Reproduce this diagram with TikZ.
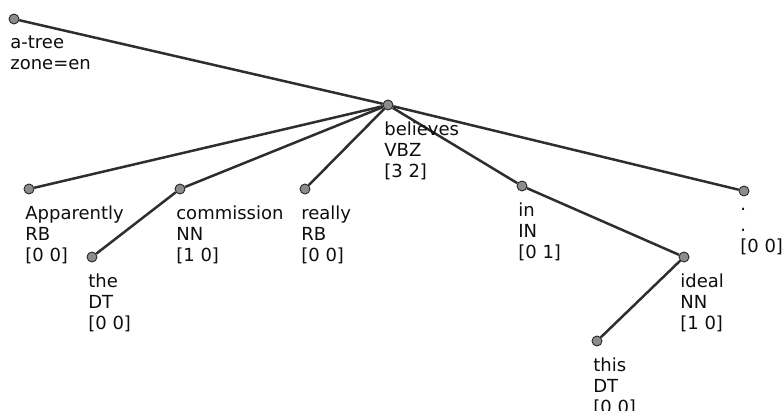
\documentclass[tikz,border=0pt]{standalone}
\usepackage{fontspec}
\setmainfont{DejaVu Sans}
\begin{document}
\begin{tikzpicture}[x=1pt, y=1pt,
      tok/.style={circle, draw=black!85, fill=black!45, line width=0.9pt, minimum size=10pt, inner sep=0pt},
      lbl/.style={anchor=north west, align=left, inner sep=0pt, font=\fontsize{18}{21}\selectfont, text=black!95},
      dep/.style={draw=black!82, line width=2.5pt}]
    \useasboundingbox (0,0) rectangle (783,-411);
    % tokens
    \node[tok] (root) at (14,-19) {};
    \node[tok] (believes) at (388,-105) {};
    \node[tok] (apparently) at (29,-189) {};
    \node[tok] (commission) at (180,-189) {};
    \node[tok] (the) at (92,-257) {};
    \node[tok] (really) at (305,-189) {};
    \node[tok] (in) at (522,-186) {};
    \node[tok] (ideal) at (684,-257) {};
    \node[tok] (this) at (597,-341) {};
    \node[tok] (period) at (744,-191) {};
    % arcs
    \draw[dep] (root) -- (believes);
    \foreach \d in {apparently,commission,really,in,period} {\draw[dep] (believes) -- (\d);}
    \draw[dep] (commission) -- (the);
    \draw[dep] (in) -- (ideal);
    \draw[dep] (ideal) -- (this);
    % labels
    \node[lbl] (root-l) at ([yshift=-13pt]root.south west) {a-tree\\zone=en};
    \node[lbl] (believes-l) at ([yshift=-13pt]believes.south west) {believes\\VBZ\\{[3 2]}};
    \node[lbl] (apparently-l) at ([yshift=-13pt]apparently.south west) {Apparently\\RB\\{[0 0]}};
    \node[lbl] (commission-l) at ([yshift=-13pt]commission.south west) {commission\\NN\\{[1 0]}};
    \node[lbl] (the-l) at ([yshift=-13pt]the.south west) {the\\DT\\{[0 0]}};
    \node[lbl] (really-l) at ([yshift=-13pt]really.south west) {really\\RB\\{[0 0]}};
    \node[lbl] (in-l) at ([yshift=-13pt]in.south west) {in\\IN\\{[0 1]}};
    \node[lbl] (ideal-l) at ([yshift=-13pt]ideal.south west) {ideal\\NN\\{[1 0]}};
    \node[lbl] (this-l) at ([yshift=-13pt]this.south west) {this\\DT\\{[0 0]}};
    \node[lbl] (period-l) at ([yshift=-13pt]period.south west) {.\\.\\{[0 0]}};
  \end{tikzpicture}
\end{document}
